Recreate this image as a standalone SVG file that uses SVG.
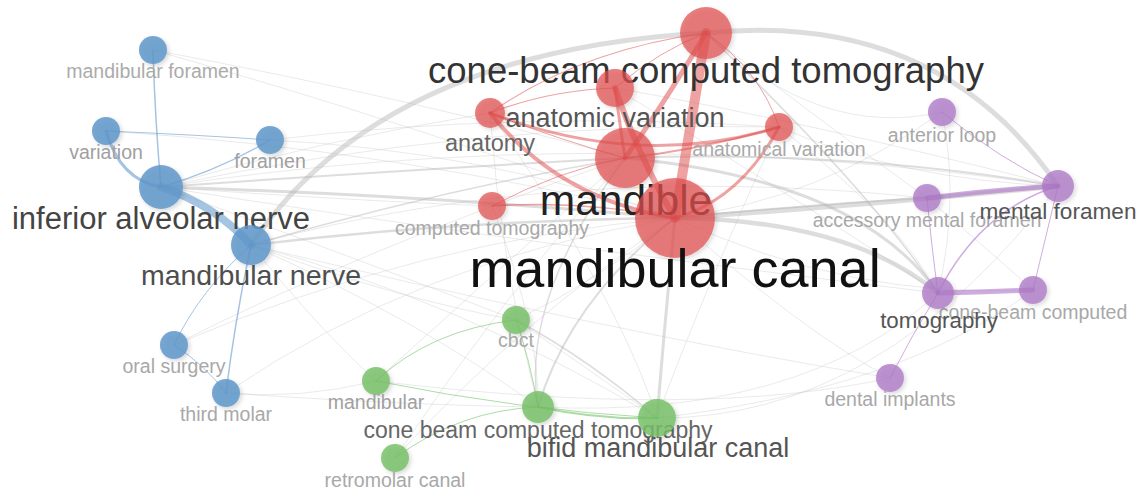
<svg xmlns="http://www.w3.org/2000/svg" width="1142" height="490" viewBox="0 0 1142 490">
<defs>
<filter id="sh" x="-50%" y="-50%" width="200%" height="200%">
<feDropShadow dx="2" dy="2" stdDeviation="2" flood-color="#000" flood-opacity="0.18"/>
</filter>
</defs>
<style>
text{font-family:"Liberation Sans",Arial,sans-serif;text-anchor:middle}
.e{fill:none;stroke-linecap:round}
.g{stroke:#b4b4b4;stroke-opacity:.45}
.gf{stroke:#c4c4c4;stroke-opacity:.35;stroke-width:1}
.b{stroke:#5b94c8;stroke-opacity:.55}
.r{stroke:#e04545;stroke-opacity:.5}
.p{stroke:#a868c2;stroke-opacity:.55}
.gr{stroke:#5cb84f;stroke-opacity:.5}
.nb{fill:#5f97ca;fill-opacity:.85;filter:url(#sh)}
.nr{fill:#e14e4e;fill-opacity:.72;filter:url(#sh)}
.np{fill:#ad77c6;fill-opacity:.78;filter:url(#sh)}
.ng{fill:#75c064;fill-opacity:.82;filter:url(#sh)}
.s{font-size:19.5px;fill:#a8a8a8}
</style>
<g id="connectors">
<!-- faint grey web -->
<path class="e gf" d="M153,50 Q400,120 675,218"/>
<path class="e gf" d="M153,50 Q420,100 625,158"/>
<path class="e gf" d="M106,131 Q400,150 675,218"/>
<path class="e gf" d="M270,140 Q480,150 675,218"/>
<path class="e gf" d="M270,140 Q520,110 779,127"/>
<path class="e gf" d="M161,187 Q320,140 490,113"/>
<path class="e gf" d="M161,187 Q340,200 492,206"/>
<path class="e gf" d="M161,187 Q480,120 779,127"/>
<path class="e gf" d="M161,187 Q600,120 1058,186"/>
<path class="e gf" d="M161,187 Q500,240 938,293"/>
<path class="e gf" d="M161,187 Q360,260 516,320"/>
<path class="e gf" d="M251,245 Q400,300 516,320"/>
<path class="e gf" d="M251,245 Q320,330 376,381"/>
<path class="e gf" d="M251,245 Q420,320 538,407"/>
<path class="e gf" d="M251,245 Q460,300 657,418"/>
<path class="e gf" d="M251,245 Q560,160 927,198"/>
<path class="e gf" d="M251,245 Q600,330 890,378"/>
<path class="e gf" d="M174,345 Q360,250 625,158"/>
<path class="e gf" d="M174,345 Q420,240 675,218"/>
<path class="e gf" d="M226,393 Q420,260 675,218"/>
<path class="e gf" d="M226,393 Q300,400 376,381"/>
<path class="e gf" d="M226,393 Q400,405 538,407"/>
<path class="e gf" d="M490,113 Q500,260 538,407"/>
<path class="e gf" d="M490,113 Q620,300 657,418"/>
<path class="e gf" d="M492,206 Q540,330 538,407"/>
<path class="e gf" d="M516,320 Q600,280 675,218"/>
<path class="e gf" d="M516,320 Q590,370 657,418"/>
<path class="e gf" d="M376,381 Q520,250 625,158"/>
<path class="e gf" d="M395,458 Q520,320 675,218"/>
<path class="e gf" d="M395,458 Q500,300 625,158"/>
<path class="e gf" d="M706,33 Q820,140 942,112"/>
<path class="e gf" d="M706,33 Q860,150 927,198"/>
<path class="e gf" d="M615,88 Q800,120 1058,186"/>
<path class="e gf" d="M615,88 Q800,200 938,293"/>
<path class="e gf" d="M779,127 Q900,180 1058,186"/>
<path class="e gf" d="M779,127 Q900,220 938,293"/>
<path class="e gf" d="M779,127 Q700,300 657,418"/>
<path class="e gf" d="M675,218 Q850,300 1033,290"/>
<path class="e gf" d="M675,218 Q800,330 890,378"/>
<path class="e gf" d="M657,418 Q880,420 1058,186"/>
<path class="e gf" d="M657,418 Q900,390 1033,290"/>
<path class="e gf" d="M538,407 Q800,420 938,293"/>
<path class="e gf" d="M942,112 Q960,200 938,293"/>
<path class="e gf" d="M942,112 Q820,200 675,218"/>
<path class="e gf" d="M890,378 Q700,420 376,381"/>
<path class="e gf" d="M927,198 Q1000,260 1033,290"/>
<!-- stronger grey links -->
<path class="e g" stroke-width="5" d="M251,245 Q381,51 706,33"/>
<path class="e g" stroke-width="5" d="M706,33 Q938,10 1058,186"/>
<path class="e g" stroke-width="3" d="M161,187 Q420,195 675,218"/>
<path class="e g" stroke-width="2" d="M161,187 Q400,170 625,158"/>
<path class="e g" stroke-width="2.5" d="M251,245 Q460,220 675,218"/>
<path class="e g" stroke-width="1.5" d="M251,245 Q440,190 625,158"/>
<path class="e g" stroke-width="5" d="M675,218 Q870,205 1058,186"/>
<path class="e g" stroke-width="2" d="M675,218 Q800,205 927,198"/>
<path class="e g" stroke-width="4.5" d="M675,218 Q850,220 938,293"/>
<path class="e g" stroke-width="3" d="M625,158 Q860,180 938,293"/>
<path class="e g" stroke-width="2" d="M625,158 Q850,150 1058,186"/>
<path class="e g" stroke-width="3" d="M675,218 Q665,320 657,418"/>
<path class="e g" stroke-width="2" d="M675,218 Q570,300 538,407"/>
<path class="e g" stroke-width="1.5" d="M625,158 Q520,300 538,407"/>
<path class="e g" stroke-width="1.5" d="M516,320 Q590,360 657,418"/>
<path class="e g" stroke-width="1.5" d="M706,33 Q870,190 938,293"/>
<!-- blue -->
<path class="e b" stroke-width="8" d="M161,187 Q215,205 251,245"/>
<path class="e b" stroke-width="3" d="M106,131 Q120,180 161,187"/>
<path class="e b" stroke-width="1.5" d="M153,50 Q155,120 161,187"/>
<path class="e b" stroke-width="1.2" d="M270,140 Q220,170 161,187"/>
<path class="e b" stroke-width="1" d="M106,131 Q200,135 270,140"/>
<path class="e b" stroke-width="1.5" d="M251,245 Q235,320 226,393"/>
<path class="e b" stroke-width="1" d="M251,245 Q200,290 174,345"/>
<path class="e b" stroke-width="1" d="M174,345 Q205,365 226,393"/>
<!-- red -->
<path class="e r" stroke-width="10" d="M706,33 Q690,130 675,218"/>
<path class="e r" stroke-width="5" d="M706,33 Q660,110 625,158"/>
<path class="e r" stroke-width="6" d="M615,88 Q640,160 675,218"/>
<path class="e r" stroke-width="3" d="M615,88 Q620,125 625,158"/>
<path class="e r" stroke-width="4" d="M490,113 Q560,200 675,218"/>
<path class="e r" stroke-width="3" d="M490,113 Q640,170 779,127"/>
<path class="e r" stroke-width="3" d="M779,127 Q740,200 675,218"/>
<path class="e r" stroke-width="2" d="M625,158 Q700,150 779,127"/>
<path class="e r" stroke-width="1.5" d="M492,206 Q580,200 675,218"/>
<path class="e r" stroke-width="1.2" d="M706,33 Q580,50 490,113"/>
<path class="e r" stroke-width="1" d="M706,33 Q760,70 779,127"/>
<path class="e r" stroke-width="1.2" d="M615,88 Q550,90 490,113"/>
<path class="e r" stroke-width="1" d="M615,88 Q660,50 706,33"/>
<path class="e r" stroke-width="1" d="M492,206 Q560,170 625,158"/>
<path class="e r" stroke-width="1" d="M490,113 Q560,140 625,158"/>
<!-- purple -->
<path class="e p" stroke-width="5" d="M927,198 Q990,190 1058,186"/>
<path class="e p" stroke-width="5" d="M938,293 Q985,292 1033,290"/>
<path class="e p" stroke-width="1.5" d="M938,293 Q980,210 1058,186"/>
<path class="e p" stroke-width="1" d="M927,198 Q932,250 938,293"/>
<path class="e p" stroke-width="1" d="M1058,186 Q1045,240 1033,290"/>
<path class="e p" stroke-width="1" d="M938,293 Q912,335 890,378"/>
<path class="e p" stroke-width="1" d="M942,112 Q1000,160 1058,186"/>
<!-- green -->
<path class="e gr" stroke-width="1.8" d="M538,407 Q600,420 657,418"/>
<path class="e gr" stroke-width="1" d="M376,381 Q520,410 657,418"/>
<path class="e gr" stroke-width="1" d="M516,320 Q430,330 376,381"/>
<path class="e gr" stroke-width="1" d="M395,458 Q460,410 538,407"/>
<path class="e gr" stroke-width="1" d="M516,320 Q530,360 538,407"/>
</g>
<g id="n-mandibular-foramen"><circle class="nb" cx="153" cy="50" r="14"/><text class="s" x="153" y="78" style="fill:#ababab">mandibular foramen</text></g>
<g id="n-variation"><circle class="nb" cx="106" cy="131" r="14"/><text class="s" x="106" y="159" style="fill:#a0a0a0">variation</text></g>
<g id="n-foramen"><circle class="nb" cx="270" cy="140" r="14"/><text class="s" x="270" y="168" style="fill:#a0a0a0">foramen</text></g>
<g id="n-inferior-alveolar-nerve"><circle class="nb" cx="161" cy="187" r="22"/><text x="161" y="229" style="font-size:31px;fill:#444">inferior alveolar nerve</text></g>
<g id="n-mandibular-nerve"><circle class="nb" cx="251" cy="245" r="20"/><text x="251" y="285" style="font-size:28.5px;fill:#4e4e4e">mandibular nerve</text></g>
<g id="n-oral-surgery"><circle class="nb" cx="174" cy="345" r="14"/><text class="s" x="174" y="373">oral surgery</text></g>
<g id="n-third-molar"><circle class="nb" cx="226" cy="393" r="14"/><text class="s" x="226" y="421">third molar</text></g>

<g id="n-cone-beam-computed-tomography"><circle class="nr" cx="706" cy="33" r="26"/><text x="706" y="83" style="font-size:36.5px;fill:#333">cone-beam computed tomography</text></g>
<g id="n-anatomic-variation"><circle class="nr" cx="615" cy="88" r="19"/><text x="615" y="127" style="font-size:27px;fill:#555">anatomic variation</text></g>
<g id="n-anatomy"><circle class="nr" cx="490" cy="113" r="15"/><text x="490" y="151" style="font-size:23.5px;fill:#666">anatomy</text></g>
<g id="n-anatomical-variation"><circle class="nr" cx="779" cy="127" r="14"/><text class="s" x="779" y="156">anatomical variation</text></g>
<g id="n-computed-tomography"><circle class="nr" cx="492" cy="206" r="14"/><text class="s" x="492" y="235">computed tomography</text></g>
<g id="n-mandible"><circle class="nr" cx="625" cy="158" r="30"/><text x="626" y="215" style="font-size:42.5px;fill:#222">mandible</text></g>
<g id="n-mandibular-canal"><circle class="nr" cx="675" cy="218" r="40"/><text x="675" y="287" style="font-size:54px;fill:#111">mandibular canal</text></g>

<g id="n-anterior-loop"><circle class="np" cx="942" cy="112" r="14"/><text class="s" x="942" y="142">anterior loop</text></g>
<g id="n-accessory-mental-foramen"><circle class="np" cx="927" cy="198" r="14"/><text class="s" x="927" y="227">accessory mental foramen</text></g>
<g id="n-mental-foramen"><circle class="np" cx="1058" cy="186" r="16"/><text x="1058" y="219" style="font-size:22.6px;fill:#555">mental foramen</text></g>
<g id="n-cone-beam-computed"><circle class="np" cx="1033" cy="290" r="14"/><text class="s" x="1033" y="319">cone-beam computed</text></g>
<g id="n-tomography"><circle class="np" cx="938" cy="293" r="16"/><text x="939" y="328" style="font-size:22.3px;fill:#555">tomography</text></g>
<g id="n-dental-implants"><circle class="np" cx="890" cy="378" r="14"/><text class="s" x="890" y="406">dental implants</text></g>

<g id="n-cbct"><circle class="ng" cx="516" cy="320" r="14"/><text class="s" x="516" y="347">cbct</text></g>
<g id="n-mandibular"><circle class="ng" cx="376" cy="381" r="14"/><text class="s" x="376" y="409" style="fill:#a0a0a0">mandibular</text></g>
<g id="n-retromolar-canal"><circle class="ng" cx="395" cy="458" r="14"/><text class="s" x="395" y="487">retromolar canal</text></g>
<g id="n-cone-beam-computed-tomography-2"><circle class="ng" cx="538" cy="407" r="16"/><text x="538" y="438" style="font-size:23px;fill:#666">cone beam computed tomography</text></g>
<g id="n-bifid-mandibular-canal"><circle class="ng" cx="657" cy="418" r="19"/><text x="658" y="457" style="font-size:27px;fill:#555">bifid mandibular canal</text></g>
</svg>
